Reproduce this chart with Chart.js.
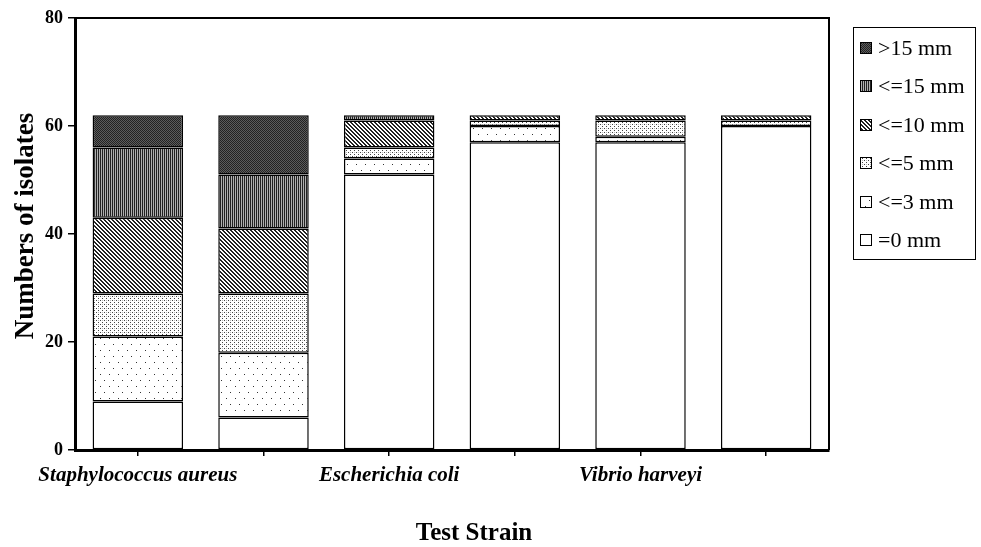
<!DOCTYPE html>
<html>
<head>
<meta charset="utf-8">
<script src="https://cdn.jsdelivr.net/npm/chart.js@4.4.1/dist/chart.umd.min.js"></script>
<style>
  body { margin: 0; background: #fff; }
</style>
</head>
<body>
<canvas id="isolatesChart" width="981" height="547"></canvas>
<script>
const strains = ["Staphylococcus aureus", "", "Escherichia coli", "", "Vibrio harveyi", ""];
const zoneLabels = ["=0 mm", "<=3 mm", "<=5 mm", "<=10 mm", "<=15 mm", ">15 mm"];

const zone0 = [9, 6, 51, 57, 57, 60];
const zone3 = [12, 12, 3, 3, 1, 0];
const zone5 = [8, 11, 2, 1, 3, 1];
const zone10 = [14, 12, 5, 1, 1, 1];
const zone15 = [13, 10, 1, 0, 0, 0];
const zone16 = [6, 11, 0, 0, 0, 0];

const yTicks = [0, 20, 40, 60, 80];

// small tiles for the black & white fills
function makePattern(w, h, paint) {
    const c = document.createElement("canvas");
    c.width = w;
    c.height = h;
    const g = c.getContext("2d");
    g.fillStyle = "#fff";
    g.fillRect(0, 0, w, h);
    paint(g);
    return document.getElementById("isolatesChart").getContext("2d").createPattern(c, "repeat");
}

const fills = [
    "#ffffff",
    makePattern(9, 12, g => {
        g.fillStyle = "#333";
        g.fillRect(1, 2, 1, 1);
        g.fillRect(5, 8, 1, 1);
    }),
    makePattern(4, 4, g => {
        g.fillStyle = "#444";
        g.fillRect(0, 0, 1, 1);
        g.fillRect(2, 2, 1, 1);
        g.fillStyle = "#bbb";
        g.fillRect(2, 0, 1, 1);
    }),
    makePattern(4, 4, g => {
        g.fillStyle = "#222";
        for (let y = 0; y < 4; y++) {
            g.fillRect(y % 4, y, 1, 1);
            g.fillRect((y + 1) % 4, y, 1, 1);
        }
    }),
    makePattern(2, 1, g => {
        g.fillStyle = "#222";
        g.fillRect(0, 0, 1, 1);
        g.fillStyle = "#b0b0b0";
        g.fillRect(1, 0, 1, 1);
    }),
    makePattern(2, 2, g => {
        g.fillStyle = "#222";
        g.fillRect(0, 0, 1, 1);
        g.fillRect(1, 1, 1, 1);
        g.fillStyle = "#5c5c5c";
        g.fillRect(1, 0, 1, 1);
        g.fillRect(0, 1, 1, 1);
    })
];

const series = [zone0, zone3, zone5, zone10, zone15, zone16];

const extras = {
    id: "extras",
    afterDraw(chart) {
        const ctx = chart.ctx;
        const a = chart.chartArea;
        ctx.save();
        // plot frame
        ctx.strokeStyle = "#000";
        ctx.lineWidth = 2;
        ctx.beginPath();
        ctx.moveTo(a.left, a.top);
        ctx.lineTo(a.right, a.top);
        ctx.lineTo(a.right, a.bottom);
        ctx.stroke();

        // legend box
        ctx.lineWidth = 1;
        ctx.strokeRect(853.5, 27.5, 122, 232);
        ctx.font = "22px 'Liberation Serif'";
        ctx.textBaseline = "middle";
        ctx.fillStyle = "#000";
        const ds = chart.data.datasets;
        for (let i = 0; i < ds.length; i++) {
            const d = ds[ds.length - 1 - i];
            const cy = Math.round(48 + i * 38.4);
            ctx.fillStyle = d.backgroundColor;
            ctx.fillRect(860, cy - 6, 12, 12);
            ctx.strokeRect(860.5, cy - 5.5, 11, 11);
            ctx.fillStyle = "#000";
            ctx.fillText(d.label, 878, cy + 1);
        }

        // axis titles
        ctx.textAlign = "center";
        ctx.font = "bold 25px 'Liberation Serif'";
        ctx.fillText("Test Strain", 474, 534);
        ctx.translate(26, 226);
        ctx.rotate(-Math.PI / 2);
        ctx.font = "bold 27px 'Liberation Serif'";
        ctx.fillText("Numbers of isolates", 0, 0);
        ctx.restore();
    }
};

new Chart(document.getElementById("isolatesChart"), {
    type: "bar",
    data: {
        labels: strains,
        datasets: series.map((vals, i) => ({
            label: zoneLabels[i],
            data: vals,
            backgroundColor: fills[i],
            borderColor: "#000",
            borderWidth: 1.5,
            borderSkipped: false,
            barPercentage: 0.72,
            categoryPercentage: 1
        }))
    },
    options: {
        responsive: false,
        animation: false,
        devicePixelRatio: 1,
        layout: { padding: { top: 18, right: 152, left: 0, bottom: 0 } },
        plugins: {
            legend: { display: false },
            tooltip: { enabled: false }
        },
        scales: {
            x: {
                stacked: true,
                afterFit: s => { s.height = 97; },
                border: { color: "#000", width: 3 },
                grid: { drawOnChartArea: false, offset: false, tickLength: 6, color: "#000", lineWidth: 1.5 },
                ticks: {
                    autoSkip: false,
                    maxRotation: 0,
                    padding: 7,
                    color: "#000",
                    font: { family: "Liberation Serif", size: 21, weight: "bold", style: "italic" }
                }
            },
            y: {
                stacked: true,
                min: 0,
                max: 80,
                afterFit: s => { s.width = 75; },
                afterBuildTicks: s => { s.ticks = yTicks.map(v => ({ value: v })); },
                border: { color: "#000", width: 3 },
                grid: { drawOnChartArea: false, tickLength: 7, color: "#000", lineWidth: 1.5 },
                ticks: {
                    padding: 5,
                    color: "#000",
                    font: { family: "Liberation Serif", size: 18, weight: "bold" }
                }
            }
        }
    },
    plugins: [extras]
});
</script>
</body>
</html>
